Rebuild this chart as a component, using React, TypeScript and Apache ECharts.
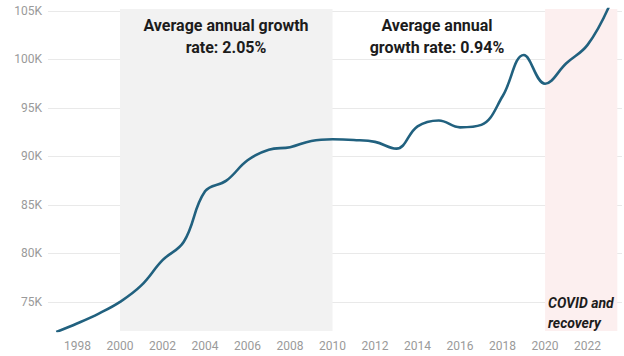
import React, { useEffect, useRef } from "react";
import * as echarts from "echarts";

const years = [1997, 1998, 1999, 2000, 2001, 2002, 2003, 2004, 2005, 2006, 2007, 2008, 2009, 2010, 2011, 2012, 2013, 2014, 2015, 2016, 2017, 2018, 2019, 2020, 2021, 2022, 2023];
const values = [71900, 72800, 73800, 75000, 76700, 79300, 81200, 86400, 87500, 89600, 90700, 90950, 91600, 91770, 91700, 91500, 90800, 93100, 93700, 93000, 93250, 96200, 100450, 97500, 99600, 101500, 105400];
const xTickLabels = [1998, 2000, 2002, 2004, 2006, 2008, 2010, 2012, 2014, 2016, 2018, 2020, 2022];
const yTickValues = [75000, 80000, 85000, 90000, 95000, 100000, 105000];
const growthPeriods = [
  { from: 2000, to: 2010, label: "Average annual growth\nrate: 2.05%" },
  { from: 2010, to: 2020, label: "Average annual\ngrowth rate: 0.94%" },
];
const covidPeriod = { from: 2020, to: 2023.4, label: "COVID and\nrecovery" };

export default function App() {
  const ref = useRef<HTMLDivElement>(null);
  useEffect(() => {
    if (!ref.current) return;
    const chart = echarts.init(ref.current, null, { renderer: "svg" });
    const xMin = 1996.61;
    const xMax = 2023.62;
    chart.setOption({
      animation: false,
      grid: { left: 48, right: 2, top: 9, bottom: 25 },
      xAxis: {
        type: "value",
        min: xMin,
        max: xMax,
        axisLine: { show: false },
        axisTick: { show: false, customValues: xTickLabels },
        splitLine: { show: false },
        axisLabel: {
          customValues: xTickLabels,
          color: "#9a9a9a",
          fontFamily: "Roboto",
          fontSize: 12,
          margin: 9,
          formatter: (v: number) => String(Math.round(v)),
        },
      },
      yAxis: {
        type: "value",
        min: 72000,
        max: 105200,
        axisLine: { show: false },
        axisTick: { show: false, customValues: yTickValues },
        splitLine: { show: true, lineStyle: { color: "#e9e9e9", width: 1 } },
        axisLabel: {
          customValues: yTickValues,
          color: "#9a9a9a",
          fontFamily: "Roboto",
          fontSize: 12,
          margin: 6,
          formatter: (v: number) => Math.round(v / 1000) + "K",
        },
      },
      series: [
        {
          type: "line",
          data: years.map((y, i) => [y, values[i]]),
          smooth: 0.4,
          symbol: "none",
          lineStyle: { color: "#21617f", width: 2.6 },
          z: 3,
          markArea: {
            silent: true,
            data: [
              [
                { xAxis: growthPeriods[0].from, itemStyle: { color: "#f2f2f2" } },
                { xAxis: growthPeriods[0].to },
              ],
              [
                { xAxis: covidPeriod.from, itemStyle: { color: "#fcefef" } },
                { xAxis: covidPeriod.to },
              ],
            ],
          },
        },
      ],
      graphic: [
        {
          type: "text",
          x: 226,
          y: 14,
          z: 10,
          style: {
            text: growthPeriods[0].label,
            fontFamily: "Roboto",
            fontWeight: "bold",
            fontSize: 16,
            lineHeight: 22,
            fill: "#1c1c1c",
            textAlign: "center",
            textVerticalAlign: "top",
          },
        },
        {
          type: "text",
          x: 437,
          y: 14,
          z: 10,
          style: {
            text: growthPeriods[1].label,
            fontFamily: "Roboto",
            fontWeight: "bold",
            fontSize: 16,
            lineHeight: 22,
            fill: "#1c1c1c",
            textAlign: "center",
            textVerticalAlign: "top",
          },
        },
        {
          type: "text",
          x: 548,
          y: 293,
          z: 10,
          style: {
            text: covidPeriod.label,
            fontFamily: "Roboto",
            fontWeight: "bold",
            fontStyle: "italic",
            fontSize: 14,
            lineHeight: 20,
            fill: "#1c1c1c",
            textAlign: "left",
            textVerticalAlign: "top",
          },
        },
      ],
    });
    return () => chart.dispose();
  }, []);
  return (
    <div
      ref={ref}
      style={{ position: "fixed", left: 0, top: 0, width: 624, height: 356, background: "#ffffff" }}
    />
  );
}
